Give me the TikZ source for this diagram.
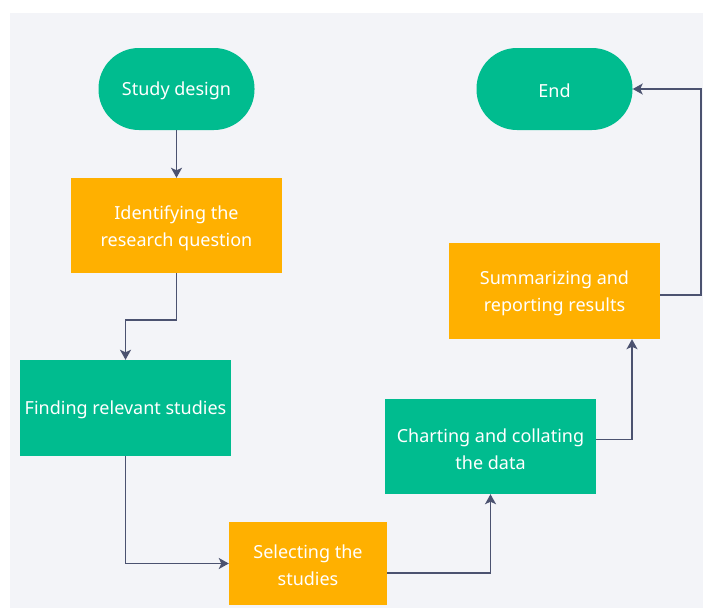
\documentclass[tikz,border=0pt]{standalone}
\usepackage{fontspec}
\setmainfont{Noto Sans}
\usetikzlibrary{arrows.meta,calc}
\definecolor{paper}{HTML}{F3F4F8}
\definecolor{mint}{HTML}{00BC8F}
\definecolor{amber}{HTML}{FFB000}
\definecolor{slate}{HTML}{4B5270}
\begin{document}
\begin{tikzpicture}[x=1pt,y=-1pt,
  every node/.style={inner sep=0pt},
  caption/.style={text=white,font=\fontsize{18}{27}\selectfont,align=center},
  terminal/.style={fill=mint,rounded corners=40.5pt,minimum width=156pt,minimum height=82pt},
  greenbox/.style={fill=mint,minimum width=211pt,minimum height=95pt},
  orangebox/.style={fill=amber,minimum width=211pt,minimum height=95pt},
  link/.style={draw=slate,line width=1.5pt,-{Stealth[length=10pt,width=11pt,inset=2.5pt]}}]
  % canvas
  \useasboundingbox (0,0) rectangle (703,608);
  \fill[white] (0,0) rectangle (703,608);
  \fill[paper] (10,13) rectangle (703,608);

  % process steps (shapes)
  \node[terminal] (sd) at (176.5,89) {};
  \node[terminal] (end) at (554.5,89) {};
  \node[orangebox] (id) at (176.5,225.5) {};
  \node[greenbox,minimum height=96pt] (find) at (125.5,408) {};
  \node[orangebox,minimum width=158pt,minimum height=83pt] (sel) at (308,563.5) {};
  \node[greenbox] (chart) at (490.5,446.5) {};
  \node[orangebox,minimum height=96pt] (sum) at (554.5,291) {};

  % step captions, set slightly low so the capitals sit on the centre line
  \node[caption] (sd-t) at ($(sd)+(0,2)$) {Study design};
  \node[caption] (end-t) at ($(end)+(0,2)$) {End};
  \node[caption] (id-t) at ($(id)+(0,2.5)$) {Identifying the\\research question};
  \node[caption] (find-t) at ($(find)+(0,2)$) {Finding relevant studies};
  \node[caption] (sel-t) at ($(sel)+(0,2)$) {Selecting the\\studies};
  \node[caption] (chart-t) at ($(chart)+(0,2.5)$) {Charting and collating\\the data};
  \node[caption] (sum-t) at ($(sum)+(0,2.5)$) {Summarizing and\\reporting results};

  % flow
  \draw[link] (sd.south) -- (id.north);
  \draw[link] (id.south) -- ++(0,47) -| (find.north);
  \draw[link] (find.south) |- (sel.west);
  \draw[link] ($(sel.east)+(0,9.5)$) -| (chart.south);
  \draw[link] ($(chart.east)+(0,-7)$) -| ($(sum.south)+(77.5,0)$);
  \coordinate (turn) at (701,89);
  \draw[link] ($(sum.east)+(0,4)$) -| (turn) -- (end.east);
\end{tikzpicture}
\end{document}
